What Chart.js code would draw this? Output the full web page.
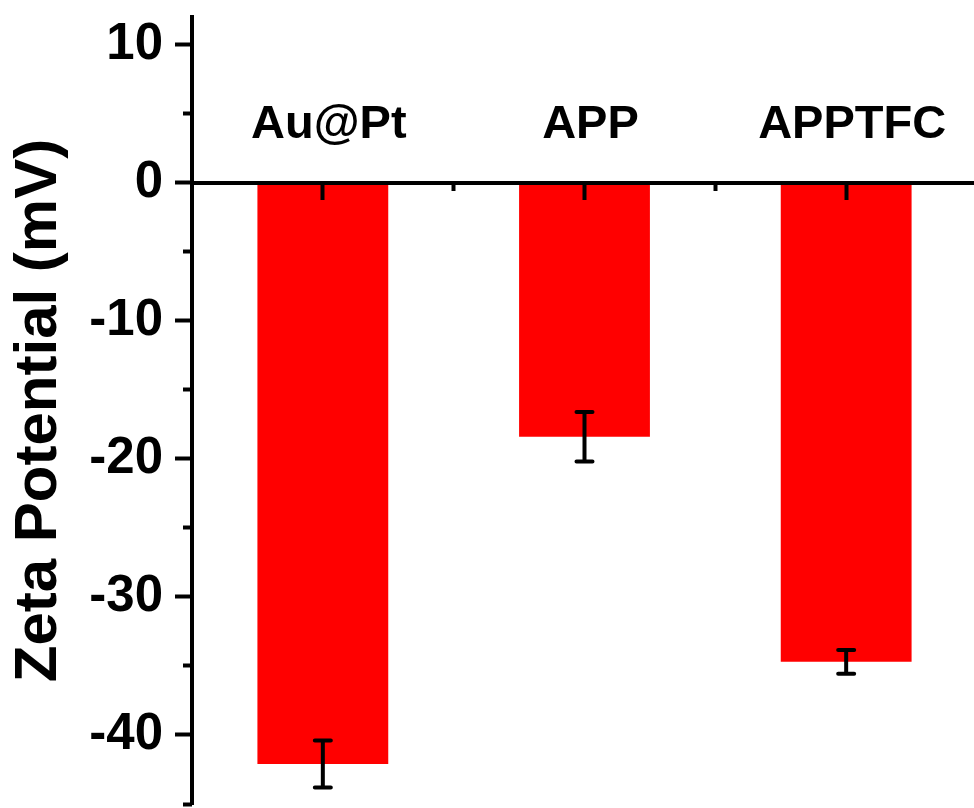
<!DOCTYPE html>
<html>
<head>
<meta charset="utf-8">
<script src="https://cdn.jsdelivr.net/npm/chart.js@4"></script>
<style>
  html, body { margin: 0; padding: 0; background: #ffffff; overflow: hidden; }
  #wrap { width: 980px; height: 808px; position: relative; }
</style>
</head>
<body>
<div id="wrap"><canvas id="c"></canvas></div>
<script>
// ---- data ----
const categories = ["Au@Pt", "APP", "APPTFC"];
const zetaMeans  = [-42.1, -18.4, -34.7];
const zetaErrors = [1.7, 1.8, 0.86];
const yMajorTicks = [-40, -30, -20, -10, 0, 10];
const yMinorTicks = [-45, -35, -25, -15, -5, 5];
const xMajorTicks = [1, 2, 3];
const xMinorTicks = [1.5, 2.5, 3.5];
const yTitle = "Zeta Potential (mV)";

const FONT = "'Liberation Sans', Arial, Helvetica, sans-serif";

const barData = categories.map((c, i) => ({ x: i + 1, y: zetaMeans[i] }));

const errorBarPlugin = {
  id: 'errorBars',
  afterDatasetsDraw(chart) {
    const xs = chart.scales.x, ys = chart.scales.y, ctx = chart.ctx;
    ctx.save();
    ctx.strokeStyle = '#000';
    ctx.lineWidth = 4;
    categories.forEach((c, i) => {
      const px = xs.getPixelForValue(i + 1);
      const top = ys.getPixelForValue(zetaMeans[i] + zetaErrors[i]);
      const bot = ys.getPixelForValue(zetaMeans[i] - zetaErrors[i]);
      ctx.lineCap = 'butt';
      ctx.beginPath(); ctx.moveTo(px, top); ctx.lineTo(px, bot); ctx.stroke();
      ctx.lineCap = 'round';
      ctx.beginPath();
      ctx.moveTo(px - 8, top); ctx.lineTo(px + 8, top);
      ctx.moveTo(px - 8, bot); ctx.lineTo(px + 8, bot);
      ctx.stroke();
    });
    ctx.restore();
  }
};

const categoryLabelPlugin = {
  id: 'categoryLabels',
  afterDraw(chart) {
    const xs = chart.scales.x, ys = chart.scales.y, ctx = chart.ctx;
    ctx.save();
    ctx.fillStyle = '#000';
    ctx.font = 'bold 47px ' + FONT;
    ctx.textAlign = 'center';
    ctx.textBaseline = 'middle';
    const y0 = ys.getPixelForValue(0);
    categories.forEach((c, i) => {
      ctx.fillText(c, xs.getPixelForValue(i + 1) + 6, y0 - 58);
    });
    ctx.restore();
  }
};

new Chart(document.getElementById('c'), {
  type: 'bar',
  data: {
    datasets: [{
      data: barData,
      backgroundColor: '#ff0000',
      borderWidth: 0,
      barPercentage: 0.5,
      categoryPercentage: 1.0,
      xAxisID: 'x',
      yAxisID: 'y'
    }]
  },
  options: {
    responsive: true,
    maintainAspectRatio: false,
    devicePixelRatio: 1,
    animation: false,
    layout: { padding: { top: 17, bottom: 4, left: 0, right: 3 } },
    plugins: { legend: { display: false }, tooltip: { enabled: false } },
    scales: {
      x: {
        type: 'linear',
        min: 0.5, max: 3.5,
        offset: false,
        position: { y: 0 },
        afterFit: s => { s.height = 0; s.paddingLeft = 0; s.paddingRight = 0; },
        afterBuildTicks: s => { s.ticks = xMajorTicks.map(v => ({ value: v })); },
        ticks: { display: false },
        grid: { z: 1, offset: false, drawOnChartArea: false, drawTicks: true, tickLength: 15, tickWidth: 4, tickColor: '#000' },
        border: { z: 1, display: true, color: '#000', width: 4 }
      },
      x2: {
        type: 'linear',
        min: 0.5, max: 3.5,
        offset: false,
        position: { y: 0 },
        afterFit: s => { s.height = 0; s.paddingLeft = 0; s.paddingRight = 0; },
        afterBuildTicks: s => { s.ticks = xMinorTicks.map(v => ({ value: v })); },
        ticks: { display: false },
        grid: { z: 1, offset: false, drawOnChartArea: false, drawTicks: true, tickLength: 8, tickWidth: 4, tickColor: '#000' },
        border: { display: false }
      },
      y: {
        type: 'linear',
        position: 'left',
        min: -45, max: 12,
        afterBuildTicks: s => { s.ticks = yMajorTicks.map(v => ({ value: v })); },
        afterFit: s => { s.width = 192; s.paddingTop = 0; s.paddingBottom = 0; },
        ticks: {
          color: '#000',
          padding: 12,
          font: { family: FONT, size: 51, weight: 'bold' }
        },
        grid: { z: 1, drawOnChartArea: false, drawTicks: true, tickLength: 17, tickWidth: 4, tickColor: '#000' },
        border: { z: 1, display: true, color: '#000', width: 4 },
        title: {
          display: true,
          text: yTitle,
          color: '#000',
          padding: { top: 3, bottom: 0 },
          font: { family: FONT, size: 60, weight: 'bold' }
        }
      },
      y2: {
        type: 'linear',
        position: { x: 0.5 },
        min: -45, max: 12,
        afterFit: s => { s.width = 0; s.paddingTop = 0; s.paddingBottom = 0; },
        afterBuildTicks: s => { s.ticks = yMinorTicks.map(v => ({ value: v })); },
        ticks: { display: false },
        grid: { z: 1, drawOnChartArea: false, drawTicks: true, tickLength: 9, tickWidth: 4, tickColor: '#000' },
        border: { display: false }
      }
    }
  },
  plugins: [errorBarPlugin, categoryLabelPlugin]
});
</script>
</body>
</html>
